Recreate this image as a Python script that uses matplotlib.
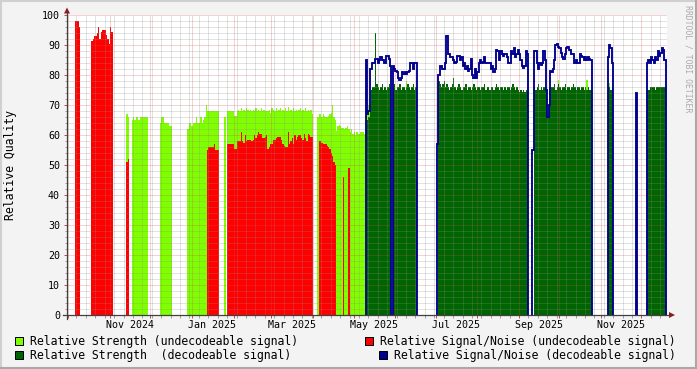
import numpy as np
import pandas as pd
import matplotlib
matplotlib.use("Agg")
import matplotlib.pyplot as plt
import matplotlib.dates as mdates
from matplotlib.lines import Line2D
from matplotlib.patches import Polygon, Rectangle

# --- data: daily values, stored as runs of (first day, values) ---
START = "2024-09-30"
N_DAYS = 446

STRENGTH_UNDEC = [
    ("2024-11-13", [67, 66]),
    ("2024-11-17", [65, 66, 65, 66, 66, 65, 66, 66, 66, 66, 66, 66]),
    ("2024-12-08", [64, 66, 66, 64, 64, 64, 64, 63, 63]),
    ("2024-12-28", [62, 62, 64, 63, 63, 64, 64, 66, 64, 64, 66, 64, 65, 66, 70, 68,
                    68, 68, 68, 68, 68, 68, 68, 68]),
    ("2025-01-25", [66]),
    ("2025-01-27", [68, 68, 68, 68, 68, 66.5, 66.5, 68, 68.5, 68,
                    69, 68, 68.5, 68, 69, 68.5, 68, 68.5, 68, 68.5,
                    68, 69, 68, 68.5, 68, 69, 68, 68.5, 68, 68,
                    68, 68.5, 67.5, 69, 68.5, 68, 69, 68, 68.5, 69,
                    68, 68.5, 68, 69, 68, 69.5, 68, 68.5, 68, 69,
                    68, 68.5, 68, 68.5, 69, 68, 68.5, 68, 69, 68,
                    68.5, 68, 68.5, 67]),
    ("2025-04-04", [66, 67, 67, 66, 67, 66.5, 66, 66, 66.5, 67, 67.5, 70, 66, 65,
                    61.5, 63, 63.5, 63, 62.5, 62.5, 62, 62.5, 63, 62, 61, 62,
                    60.5, 61, 60, 61, 60.5, 60.5, 61, 61, 61, 60.5,
                    67, 68, 70, 69]),
    ("2025-06-09", [78]),
    ("2025-09-30", [78.5]),
    ("2025-10-21", [78.5]),
    ("2025-11-07", [77.5]),
]

SNR_UNDEC = [
    ("2024-10-06", [98, 98, 98, 96]),
    ("2024-10-18", [91.5, 92, 93, 93, 94, 96, 92, 94.5, 95, 95, 95, 93.5, 92, 90.5,
                    96, 94.5]),
    ("2024-11-13", [51, 52]),
    ("2025-01-12", [55, 56, 56, 56, 56, 57, 55, 55, 55]),
    ("2025-01-27", [57, 57, 57, 57, 57, 55.5, 55.5, 58, 58, 58,
                    61, 58, 57.5, 60, 58, 58.5, 58.5, 58.5, 58, 58.5,
                    60, 59, 60, 61, 60.5, 60.5, 59, 59, 59.5, 60,
                    55.5, 56, 57, 57, 58.5, 58.5, 59, 59.5, 59.5, 59.5,
                    58.5, 57, 56.5, 56, 56, 61, 57, 58, 59, 57,
                    60, 58.5, 59.5, 60, 60, 59, 58.5, 60.5, 59, 58,
                    60.5, 60, 59.5, 59.5]),
    ("2025-04-05", [58, 58, 57.5, 57, 57, 57, 56.5, 56, 55.5, 54, 53, 51, 50]),
    ("2025-04-23", [46]),
    ("2025-04-27", [49]),
]

STRENGTH_DEC = [
    ("2025-05-10", [65, 65, 66, 68, 75, 76, 76, 94, 77, 76, 75, 76, 77, 75, 76, 75,
                    76, 77, 75]),
    ("2025-05-30", [76, 77, 75, 76, 76, 77, 75, 76, 76, 75, 76, 77, 76, 75, 76, 77,
                    75, 76]),
    ("2025-07-03", [78, 77, 76, 77, 78, 76, 77, 76, 75, 76,
                    77, 79, 76, 75, 76, 77, 76, 75, 76, 76,
                    77, 75, 76, 76, 75, 76, 77, 76, 75, 76,
                    76, 75, 76, 76, 77, 75, 76, 76, 75, 76,
                    76, 75, 76, 77, 76, 75, 76, 76, 75, 76,
                    75, 76, 76, 75, 76, 77, 76, 75, 76, 75,
                    74.5, 75, 74.5, 75, 74.5, 75, 74.5]),
    ("2025-09-12", [76, 75, 76, 77, 75, 76, 75, 76, 76, 75,
                    66.5, 76, 75, 76, 76, 77, 75, 76, 77, 76,
                    75, 76, 76, 77, 75, 76, 76, 75, 76, 77,
                    76, 75, 76, 76, 75, 76, 76, 75, 76, 75,
                    76, 75, 75]),
    ("2025-11-06", [76, 76, 75, 76]),
    ("2025-12-05", [75, 75, 76, 76, 76, 76, 75, 76, 76, 76, 76, 76, 76, 76]),
]

SNR_DEC = [
    ("2025-05-10", [85, 67, 68, 82, 82, 84, 84, 85.5, 85.5, 84, 85, 86, 85, 85, 84,
                    86.5, 86.5, 85.5, 83]),
    ("2025-05-30", [83, 82, 81.5, 81, 79, 78.5, 79, 81, 80.5, 81, 80.5, 81, 81.5, 84,
                    84, 82, 84, 84]),
    ("2025-07-02", [57,
                    80, 83, 83, 82, 82, 84, 93, 87, 87, 86,
                    86, 85, 84, 84.5, 86.5, 86.5, 85, 86, 83, 84,
                    82, 83, 81.5, 82, 85.5, 80, 79, 82, 79, 81,
                    84, 85, 84, 84.5, 86, 84, 84, 84, 84, 82,
                    83, 81, 82, 88.5, 88, 85, 88, 87, 86.5, 87,
                    87, 86, 84, 84, 88, 87, 89, 86, 87, 88.5,
                    87, 85, 83, 82.5, 83, 88, 87]),
    ("2025-09-11", [55,
                    88, 88, 84, 82, 84, 83.5, 84, 88, 85, 75,
                    66, 70, 81.5, 81, 82, 85, 90, 90.5, 89.5, 89,
                    87.5, 86, 85.5, 87, 89, 89.5, 88.5, 88.5, 87, 87,
                    84, 85, 84, 84, 87, 86.5, 86, 85, 86, 85,
                    86, 85.5, 85]),
    ("2025-11-06", [86, 90, 89, 84]),
    ("2025-11-27", [74]),
    ("2025-12-05", [84, 85, 84, 86, 85, 84, 86, 85, 88, 86.5, 87.5, 89, 88.5, 85]),
]

X_LABELS = ["Nov 2024", "Jan 2025", "Mar 2025", "May 2025", "Jul 2025", "Sep 2025", "Nov 2025"]
LEGEND = [
    ("Relative Strength (undecodeable signal)", "#80FF00"),
    ("Relative Strength  (decodeable signal)", "#006400"),
    ("Relative Signal/Noise (undecodeable signal)", "#FF0000"),
    ("Relative Signal/Noise (decodeable signal)", "#000090"),
]

# --- rrdtool-ish colours ---
BACK = "#F3F3F3"
GRID = (0.55, 0.55, 0.55, 0.5)
MGRID = (0.85, 0.3, 0.3, 0.5)
ARROW = "#8B1E1E"
AXIS = "#404040"
MONO = "DejaVu Sans Mono"

W, H = 697, 369


def px(x, y):
    # pixel position (from top-left) to figure fraction
    return x / W, 1 - y / H


def daily(runs):
    start = pd.Timestamp(START)
    out = np.full(N_DAYS, np.nan)
    for day, vals in runs:
        i = (pd.Timestamp(day) - start).days
        out[i:i + len(vals)] = vals
    return out


edges = mdates.date2num(pd.date_range(START, periods=N_DAYS + 1, freq="D"))

fig = plt.figure(figsize=(W / 100, H / 100), dpi=100, facecolor=BACK)
ax = fig.add_axes([67 / W, 1 - 315 / H, 600 / W, 300 / H])
ax.set_facecolor("white")

ax.stairs(daily(STRENGTH_UNDEC), edges, baseline=0, fill=True, color=LEGEND[0][1], lw=0, zorder=1.0)
ax.stairs(daily(SNR_UNDEC), edges, baseline=0, fill=True, color=LEGEND[2][1], lw=0, zorder=1.1)
ax.stairs(daily(STRENGTH_DEC), edges, baseline=0, fill=True, color=LEGEND[1][1], lw=0, zorder=1.2)
ax.stairs(daily(SNR_DEC), edges, baseline=0, fill=False, color=LEGEND[3][1], lw=1.35, zorder=3)

ax.set_xlim(edges[0], edges[-1])
ax.set_ylim(0, 100)

# grid (dotted, drawn over the areas like rrdtool does)
dots = (0, (1, 1))
for y in range(2, 101, 2):
    major = y % 10 == 0
    ax.axhline(y, color=MGRID if major else GRID, lw=0.72, ls=dots, zorder=2)
month_starts = pd.date_range("2024-10-01", "2025-12-01", freq="MS")
week_starts = pd.date_range(START, periods=70, freq="7D")
week_starts = week_starts[week_starts < pd.Timestamp(START) + pd.Timedelta(days=N_DAYS)]
for d in week_starts:
    if d.day != 1:
        ax.axvline(mdates.date2num(d), color=GRID, lw=0.72, ls=dots, zorder=2)
for d in month_starts:
    ax.axvline(mdates.date2num(d), color=MGRID, lw=0.72, ls=dots, zorder=2)

for s in ax.spines.values():
    s.set_visible(False)

ax.set_xticks(mdates.date2num(month_starts))
ax.set_xticks(mdates.date2num(week_starts), minor=True)
ax.set_xticklabels([])
ax.set_yticks(range(0, 101, 10))
ax.set_yticks(range(0, 101, 2), minor=True)
ax.set_yticklabels([str(v) for v in range(0, 101, 10)], fontfamily=MONO, fontsize=7.2)
ax.tick_params(which="major", length=2.5, width=0.72, color="#C05050", pad=2.5)
ax.tick_params(which="minor", length=1.8, width=0.72, color="#A0A0A0")

for lab in X_LABELS:
    pos = mdates.date2num(pd.to_datetime(lab, format="%b %Y") + pd.Timedelta(days=15))
    ax.annotate(lab, xy=(pos, 0), xycoords=ax.get_xaxis_transform(), xytext=(0, -5),
                textcoords="offset pixels", ha="center", va="top",
                fontfamily=MONO, fontsize=7.2, color="black")

# axes with arrows
fig.add_artist(Line2D(*zip(px(63, 315), px(669, 315)), color=AXIS, lw=0.9))
fig.add_artist(Line2D(*zip(px(67, 319), px(67, 13)), color=AXIS, lw=0.9))
fig.add_artist(Polygon([px(669, 312), px(675, 315), px(669, 318)], closed=True,
                       color=ARROW, lw=0, transform=fig.transFigure))
fig.add_artist(Polygon([px(64, 13.5), px(67, 7.5), px(70, 13.5)], closed=True,
                       color=ARROW, lw=0, transform=fig.transFigure))

# bevel border
fig.add_artist(Line2D(*zip(px(0, 1), px(W, 1)), color="#D0D0D0", lw=1.5))
fig.add_artist(Line2D(*zip(px(1, 0), px(1, H)), color="#D0D0D0", lw=1.5))
fig.add_artist(Line2D(*zip(px(0, H - 1), px(W, H - 1)), color="#A8A8A8", lw=1.5))
fig.add_artist(Line2D(*zip(px(W - 1, 0), px(W - 1, H)), color="#A8A8A8", lw=1.5))

fig.text(*px(11, 165), "Relative Quality", rotation=90, ha="center", va="center",
         fontfamily=MONO, fontsize=8.3)
fig.text(*px(688, 5), "RRDTOOL / TOBI OETIKER", rotation=-90, ha="center", va="top",
         fontfamily=MONO, fontsize=5.9, color="#ABABAB")

# legend
legend_pos = [(15, 30, 341), (15, 30, 355), (365, 380, 341), (379, 394, 355)]
for (text, color), (bx, tx, ty) in zip(LEGEND, legend_pos):
    x0, y0 = px(bx, ty + 4)
    fig.add_artist(Rectangle((x0, y0), 8 / W, 8 / H, transform=fig.transFigure,
                             facecolor=color, edgecolor="black", lw=0.72))
    fig.text(*px(tx, ty), text, ha="left", va="center", fontfamily=MONO, fontsize=8.3)

fig.savefig("out.png", dpi=100, facecolor=BACK)
